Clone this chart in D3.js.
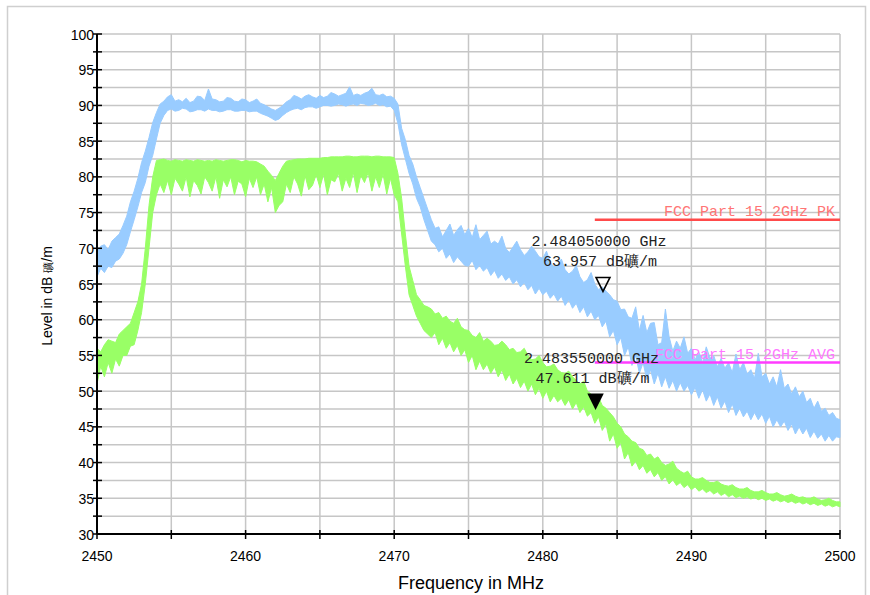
<!DOCTYPE html>
<html><head><meta charset="utf-8">
<script src="https://cdn.jsdelivr.net/npm/d3@7"></script>
<style>body{margin:0;background:#fff}svg{display:block}</style>
</head><body>
<script>
// ---- data (sweep 2450..2500 MHz, one value every 0.25 MHz) ----
const freqStart = 2450, freqStep = 0.25;
const peakLo = [
 66,67.2,66.6,67.5,67.3,68.2,68.5,69.3,70.5,72.3,
 74,75.8,77.8,79.2,81.5,83,85.3,87.5,88.6,89.3,
 89.5,89.2,89.3,89.6,89.5,89.1,89.2,89.4,89.4,89.2,
 89.5,89.3,89.3,89.1,89.2,89.4,89.4,89.2,89.2,89.3,
 89.3,89.1,89.2,89.2,88.9,88.7,88.5,88.2,87.9,88.1,
 88.6,89,89.3,89.5,89.6,89.4,89.7,89.8,89.8,89.6,
 89.8,90,90,89.9,90,90.2,90.1,89.9,90.1,90.2,
 90,90.3,90.2,90,90.1,90.3,90,90.1,89.8,89.9,
 89.3,87.5,84.5,82.5,80.5,79,77,75.8,74,72.5,
 71,70.5,69.5,70,68.6,69.2,68,68.8,68.2,67.6,
 67.5,68.3,67,67.6,66.8,67.3,66.2,66.9,65.8,66.4,
 65.5,66,65,65.6,64.6,65.2,64.2,64.8,63.6,64.4,
 63.5,64,63,63.6,62.6,63.3,62,62.8,61.6,62.3,
 61,61.8,60.4,61.2,60,60.6,59,59.8,57.6,58.5,
 56.5,57.5,55,56.2,53.6,55,52.5,54,51.6,53,
 51,52.5,50.6,52,50.4,51.5,50,51.2,50,50.8,
 49.5,50.5,49,50.2,48.6,49.6,48,49.2,47.6,48.6,
 47,48.2,46.6,47.6,46.4,47.2,46,47,46,46.8,
 45.5,46.5,45,46,45,45.8,44.5,45.4,44,45,
 44,44.8,43.5,44.4,43.4,44,43,43.8,43,43.6,
 43.5];
const peakHi = [
 69.5,70.3,70.5,69.8,71,71.5,72,73.2,74.5,76.5,
 78,79.8,82,83.6,85.5,87.6,89,90.2,90.6,91.2,
 91.5,90.6,90.8,90.5,91,90.4,90.6,91.3,91.2,90.7,
 92.3,90.9,90.8,90.5,90.6,91.1,91,90.6,90.5,90.9,
 90.8,90.4,90.6,90.9,90.3,90.1,89.8,89.5,89.3,89.6,
 90,90.5,90.8,91.4,91.2,90.9,91.3,91.5,91.2,91,
 91.4,91.1,91.3,91.8,91.6,91.3,91.5,91.7,92.6,91.4,
 91.6,91.4,91.7,91.9,92.4,91.5,91.4,91.6,91.2,91.3,
 91,90.2,86.8,85.2,83,81.8,80,78.5,77,75.5,
 74,72.8,73,71.6,72.5,73.4,71.8,72.6,73.2,71.9,
 72.8,71.5,73.3,71.2,71.8,72.4,70.6,71,70.6,71.7,
 70,69.4,70.2,71,69.8,69,69.5,70.3,69.6,68.8,
 68.6,69.6,68,67.4,67.6,68.5,67,66.4,66.8,67.6,
 66,65.2,65.6,66.6,65,64.2,64.6,64,63.5,62.8,
 62.6,61.4,61.5,60.4,60.2,61.8,58.5,60.6,58.2,59.5,
 59.6,56.5,56.8,61.5,57.6,55.6,57,56,57.6,55.3,
 56,54.4,55.5,54,56.2,54.6,55,53.4,54.6,53.2,
 54,52.6,55.2,53,54,52.4,53,51.8,55.3,52,
 52.5,51,52,50.6,53,50.4,51,49.6,50.6,49.2,
 50,48.4,49,47.6,48.6,47.2,47.6,46.6,47,46.2,
 46];
const avgLo = [
 51,53.5,52,54,52.5,54.5,53.5,55,55,56.3,
 56.5,58.5,61,65,70,75,77.5,79,77.8,79.5,
 77.5,79.8,79,78,80,77.2,79.5,78.8,77.6,80,
 79.2,78,80,77,79.6,78.6,80,77.5,79.4,79,
 77.2,79.8,78.5,80,77.5,79,76.5,78.5,75,76,
 76.5,79,77.8,80,79,77.3,80.2,78.2,78.8,80.3,
 78.5,80.4,77.5,79.6,79.3,80.5,78,79.8,78.5,80.6,
 77.8,80.2,79.2,80.6,78,80,78.5,80.4,77.6,79.8,
 77.5,76.5,72,67.5,63.5,62,60.5,59.5,58.5,58,
 57.5,58.2,56.5,57.4,56,56.8,55.5,56.4,55,55.8,
 54,55,53,54.2,53,53.8,52.5,53.4,52,53,
 51.5,52.4,51,51.8,50.5,51.4,50,51,49.5,50.4,
 49,50,48.5,49.4,48.5,49,48,48.8,47.5,48.4,
 47,47.8,46.5,47,45.5,46.4,44.5,45.4,43,44,
 42,42.8,40.5,41.4,39.5,40.2,39,39.6,38.5,39,
 38,38.6,37.5,38,37,37.6,36.8,37.2,36.5,36.9,
 36.2,36.6,36,36.3,35.8,36.1,35.6,35.9,35.4,35.7,
 35.2,35.5,35.1,35.3,35,35.2,34.9,35.1,34.8,35,
 34.7,34.9,34.6,34.8,34.5,34.7,34.4,34.6,34.3,34.5,
 34.2,34.4,34.1,34.3,34,34.2,33.9,34.1,33.8,34,
 33.8];
const avgHi = [
 56,55.5,56.5,57.2,57,56.8,58,58.5,59,59.5,
 61,62.5,65,70,76,80,82.3,82.4,82.5,82.3,
 82.2,82.4,82.3,82.2,82.4,82.3,82.2,82.4,82.3,82.2,
 82.3,82.2,82.4,82.3,82.2,82.3,82.4,82.4,82.3,82.1,
 82.3,82.2,82.2,82.1,81.8,81.5,80.8,80.2,79.5,80.5,
 81.5,82.2,82.3,82.4,82.5,82.5,82.5,82.6,82.6,82.6,
 82.6,82.7,82.7,82.8,82.8,82.8,82.8,82.9,82.9,82.8,
 82.8,82.9,82.9,82.9,82.8,82.9,82.9,82.8,82.8,82.8,
 82.7,80.5,77,72,67.5,65.5,63.5,62.8,62,61.8,
 61.5,60.8,61,60.2,60.5,59.8,59.5,60.2,59,58.6,
 58.5,57.8,57.5,58.2,57,57.4,57,56.4,56.5,57,
 56.5,55.8,56,55.4,55.5,56,55,54.4,54.5,55,
 54,53.4,53.5,53.8,53,52.6,52.5,52.8,52,51.5,
 51,51.4,50,49.6,49,49.2,48,47.6,47,46.4,
 45.5,45,44,43.6,43,42.8,42,41.8,41,41.2,
 40.5,40.8,40,39.6,39.8,40.2,39.2,38.8,38.5,38.8,
 38,37.7,37.7,37.9,37.5,37.2,37.2,37.4,37,36.8,
 36.7,36.9,36.5,36.3,36.3,36.5,36.1,35.9,35.9,36.1,
 35.8,35.6,35.6,35.8,35.5,35.3,35.4,35.6,35.3,35.1,
 35.2,35,35,35.2,34.9,34.7,34.8,35,34.7,34.5,
 34.5];
const xTickLabels = [2450,2460,2470,2480,2490,2500];
const yTickLabels = [30,35,40,45,50,55,60,65,70,75,80,85,90,95,100];
const limits = [
  {name:"FCC Part 15 2GHz PK", level:74, start:2483.5, end:2500, line:"#ff4a4a", text:"#ff7575"},
  {name:"FCC Part 15 2GHz AVG", level:54, start:2483.5, end:2500, line:"#ff3cff", text:"#ff78ff"}
];
const markers = [
  {freqLabel:"2.484050000 GHz", levelLabel:"63.957 dB礦/m", f:2484.05, v:63.957, filled:false},
  {freqLabel:"2.483550000 GHz", levelLabel:"47.611 dB礦/m", f:2483.55, v:47.611, filled:true}
];

// ---- chart ----
const W = 870, H = 595;
const svg = d3.select("body").append("svg").attr("width", W).attr("height", H);
svg.append("rect").attr("x",7.5).attr("y",6.5).attr("width",858).attr("height",620)
  .attr("fill","none").attr("stroke","#cfcfcf").attr("stroke-width",1.5);

const x = d3.scaleLinear().domain([2450,2500]).range([97,840]);
const y = d3.scaleLinear().domain([30,100]).range([534,34]);

const grid = svg.append("g").attr("stroke","#c6c6c6").attr("stroke-width",1.5);
d3.range(32.5, 100.01, 2.5).forEach(v => {
  grid.append("line").attr("x1",x(2450)).attr("x2",x(2500)).attr("y1",y(v)).attr("y2",y(v));
});
d3.range(2455, 2500.01, 5).forEach(f => {
  grid.append("line").attr("x1",x(f)).attr("x2",x(f)).attr("y1",y(30)).attr("y2",y(100));
});

function band(lo, hi, color) {
  const pts = lo.map((l,i) => ({f: freqStart + i*freqStep, lo: l, hi: hi[i]}));
  const area = d3.area().x(d => x(d.f)).y0(d => y(d.lo)).y1(d => y(d.hi));
  svg.append("path").datum(pts).attr("d", area)
    .attr("fill", color).attr("stroke", color).attr("stroke-width", 1).attr("stroke-linejoin","miter");
}
band(avgLo, avgHi, "#99ff66");
band(peakLo, peakHi, "#99ccff");

// limit lines
limits.forEach(l => {
  svg.append("line").attr("x1",x(l.start)).attr("x2",x(l.end)).attr("y1",y(l.level)).attr("y2",y(l.level))
    .attr("stroke",l.line).attr("stroke-width",2.5);
  svg.append("text").attr("x",x(l.end)-5).attr("y",y(l.level)-4).attr("text-anchor","end")
    .attr("font-family","'Liberation Mono', monospace").attr("font-size",15).attr("fill",l.text)
    .text(l.name);
});

// axes
const yAxis = svg.append("g");
yAxis.append("line").attr("x1",97).attr("x2",97).attr("y1",y(30)).attr("y2",y(100)).attr("stroke","#000").attr("stroke-width",2);
d3.range(30, 100.01, 2.5).forEach(v => {
  yAxis.append("line").attr("x1",93).attr("x2",102).attr("y1",y(v)).attr("y2",y(v)).attr("stroke","#000").attr("stroke-width",1.5);
});
yTickLabels.forEach(v => {
  yAxis.append("text").attr("x",94).attr("y",y(v)+5.5).attr("text-anchor","end")
    .attr("font-family","'Liberation Sans', Arial, sans-serif").attr("font-size",14).attr("fill","#000").text(v);
});
const xAxis = svg.append("g");
xAxis.append("line").attr("x1",x(2450)).attr("x2",x(2500)).attr("y1",534).attr("y2",534).attr("stroke","#000").attr("stroke-width",2);
d3.range(2450, 2500.01, 5).forEach(f => {
  xAxis.append("line").attr("x1",x(f)).attr("x2",x(f)).attr("y1",530).attr("y2",539).attr("stroke","#000").attr("stroke-width",1.5);
});
xTickLabels.forEach(f => {
  xAxis.append("text").attr("x",x(f)).attr("y",561).attr("text-anchor","middle")
    .attr("font-family","'Liberation Sans', Arial, sans-serif").attr("font-size",14).attr("fill","#000").text(f);
});
svg.append("text").attr("x",471).attr("y",589).attr("text-anchor","middle")
  .attr("font-family","'Liberation Sans', Arial, sans-serif").attr("font-size",18).attr("fill","#000")
  .text("Frequency in MHz");
const yt = svg.append("text").attr("transform","translate(52,296) rotate(-90)").attr("text-anchor","middle")
  .attr("font-family","'Liberation Sans', Arial, sans-serif").attr("font-size",14).attr("fill","#000");
yt.append("tspan").text("Level in dB ");
yt.append("tspan").attr("font-size",11).text("礦");
yt.append("tspan").text("/m");

// markers
markers.forEach(m => {
  const px = x(m.f), py = y(m.v);
  svg.append("path").attr("d",`M${px-7},${py-14}L${px+7},${py-14}L${px},${py}Z`)
    .attr("fill", m.filled ? "#000" : "none").attr("stroke","#000").attr("stroke-width",1.5);
  svg.append("text").attr("x",px-4).attr("y",py-45).attr("text-anchor","middle")
    .attr("font-family","'Liberation Mono', monospace").attr("font-size",15).attr("fill","#222").text(m.freqLabel);
  svg.append("text").attr("x",px-3).attr("y",py-25).attr("text-anchor","middle")
    .attr("font-family","'Liberation Mono', monospace").attr("font-size",15).attr("fill","#222").text(m.levelLabel);
});
</script>
</body></html>
